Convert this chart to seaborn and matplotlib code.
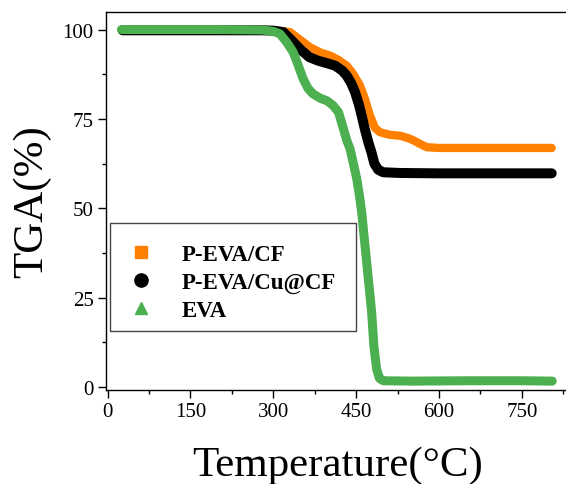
import matplotlib
matplotlib.use("Agg")
import matplotlib.pyplot as plt
from matplotlib.lines import Line2D
from matplotlib.patches import Rectangle
from matplotlib.ticker import MultipleLocator
import seaborn as sns
import pandas as pd

# ---- data ----
series_names = ["P-EVA/CF", "P-EVA/Cu@CF", "EVA"]

temp_cf = [27, 100, 200, 280, 300, 330, 348, 366, 385, 403, 418, 433, 445, 457,
           466, 475, 484, 493, 510, 530, 545, 554, 566, 578, 600, 700, 804]
tga_cf = [100, 100, 100, 99.9, 99.8, 99.3, 97.2, 95.1, 93.6, 92.7, 91.5, 89.9, 87.5, 84.3,
          80.5, 75.9, 72.5, 71.3, 70.6, 70.3, 69.6, 69.0, 68.0, 67.1, 66.9, 66.9, 66.9]

temp_cu = [27, 100, 200, 280, 300, 318, 333, 348, 365, 381, 397, 412, 425, 433, 441,
           448, 455, 460, 466, 472, 478, 483, 490, 499, 530, 600, 700, 804]
tga_cu = [99.8, 99.8, 99.8, 99.8, 99.7, 99.3, 97.0, 94.6, 92.3, 91.3, 90.6, 89.9, 88.5, 87.1, 85.0,
          82.5, 79.0, 75.9, 72.0, 68.5, 65.5, 62.5, 60.8, 60.1, 59.9, 59.8, 59.8, 59.8]

temp_eva = [25, 100, 200, 280, 300, 312, 324, 336, 345, 354, 363, 372, 385, 397, 408,
            418, 427, 433, 439, 445, 451, 456, 460, 466, 472, 478, 482, 487, 492, 499,
            550, 650, 750, 805]
tga_eva = [100, 100, 100, 99.9, 99.5, 98.8, 96.5, 93.7, 90.0, 86.2, 83.5, 82.0, 80.8, 80.1, 78.8,
           76.9, 72.2, 69.0, 66.6, 62.5, 58.3, 53.5, 48.9, 39.6, 30.3, 21.0, 11.6, 5.1, 2.5, 1.8,
           1.7, 1.8, 1.8, 1.7]

x_ticks = [0, 150, 300, 450, 600, 750]
y_ticks = [0, 25, 50, 75, 100]

colors = ["#FF8000", "#000000", "#4CAF50"]
markers = ["s", "o", "^"]
marker_sizes = [9, 9.5, 8]
widths = [6.0, 7.2, 6.5]

df = pd.concat([
    pd.DataFrame({"T": temp_cf, "TGA": tga_cf, "Sample": series_names[0]}),
    pd.DataFrame({"T": temp_cu, "TGA": tga_cu, "Sample": series_names[1]}),
    pd.DataFrame({"T": temp_eva, "TGA": tga_eva, "Sample": series_names[2]}),
])

sns.set_style("ticks")
plt.rcParams["font.family"] = ["Liberation Serif", "DejaVu Serif"]
plt.rcParams["text.color"] = "black"
plt.rcParams["axes.labelcolor"] = "black"
plt.rcParams["xtick.color"] = "black"
plt.rcParams["ytick.color"] = "black"

fig = plt.figure(figsize=(5.66, 4.85), dpi=100)
ax = fig.add_axes([106 / 566, (485 - 390.7) / 485, (568.8 - 106) / 566, (390.7 - 12.7) / 485])

for name, c, w in zip(series_names, colors, widths):
    sub = df[df["Sample"] == name]
    sns.lineplot(data=sub, x="T", y="TGA", color=c, linewidth=w, ax=ax,
                 legend=False, sort=False, solid_capstyle="round", solid_joinstyle="round")

ax.set_xlim(-3, 835)
ax.set_ylim(-0.7, 105)
ax.set_xticks(x_ticks)
ax.set_yticks(y_ticks)
ax.xaxis.set_minor_locator(MultipleLocator(75))
ax.yaxis.set_minor_locator(MultipleLocator(12.5))
ax.tick_params(axis="both", which="major", direction="out", length=5.8, width=1,
               labelsize=15, pad=3, colors="black")
ax.tick_params(axis="both", which="minor", direction="out", length=3, width=1, colors="black")
for s in ax.spines.values():
    s.set_linewidth(1)
    s.set_color("black")

ax.set_xlabel("Temperature(°C)", fontsize=31, labelpad=18, color="black")
ax.set_ylabel("TGA(%)", fontsize=31, labelpad=8, color="black")

# legend frame (drawn separately for exact placement)
ax.add_patch(Rectangle((0.0086, 0.155), 0.532, 0.286, transform=ax.transAxes,
                       facecolor="white", edgecolor="#444444", linewidth=1, zorder=4))

handles = [Line2D([], [], linestyle="none", marker=m, color=c, markersize=ms)
           for m, c, ms in zip(markers, colors, marker_sizes)]
leg = ax.legend(handles, series_names, loc="upper left",
                bbox_to_anchor=(0.0454, 0.3865), frameon=False,
                prop={"family": "Liberation Serif", "weight": "bold", "size": 16.5},
                handletextpad=1.2, borderaxespad=0, labelspacing=0.3, borderpad=0,
                handlelength=1.2, labelcolor="black")
leg.set_zorder(5)

fig.savefig("out.png", dpi=100)
